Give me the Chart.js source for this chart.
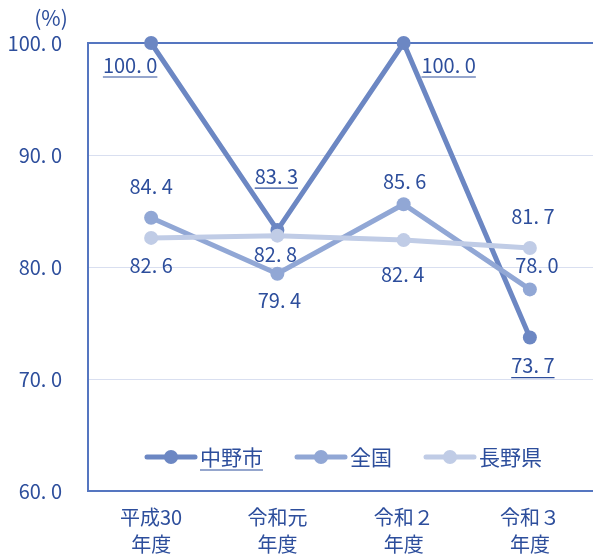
<!DOCTYPE html>
<html>
<head>
<meta charset="utf-8">
<script src="https://cdn.jsdelivr.net/npm/chart.js@4.4.1/dist/chart.umd.min.js"></script>
<style>
  html, body { margin: 0; padding: 0; background: #fff; overflow: hidden; }
  #wrap { position: relative; width: 600px; height: 560px; }
</style>
</head>
<body>
<div id="wrap"><canvas id="rateChart" width="600" height="560"></canvas></div>
<script>
// 年度ごとの率 (%)
const years = [["平成30", "年度"], ["令和元", "年度"], ["令和２", "年度"], ["令和３", "年度"]];
const nakanoCity = [100.0, 83.3, 100.0, 73.7];
const national = [84.4, 79.4, 85.6, 78.0];
const naganoPref = [82.6, 82.8, 82.4, 81.7];
const yTicks = [60, 70, 80, 90, 100];

const TEXT = "#2d4e9c";
const AXIS = "#5576c0";
const GRID = "#d9dff0";
const FONT = "'Noto Sans CJK JP', 'Noto Sans', sans-serif";

const fmt = v => v.toFixed(1).replace(".", ". ");

// 値ラベル (点からのずらし量はデータセットごと)
const valueLabels = {
  id: "valueLabels",
  afterDatasetsDraw(chart) {
    const ctx = chart.ctx;
    ctx.save();
    ctx.font = "20px " + FONT;
    ctx.fillStyle = TEXT;
    ctx.strokeStyle = TEXT;
    ctx.textAlign = "center";
    ctx.textBaseline = "middle";
    chart.data.datasets.forEach((ds, di) => {
      const meta = chart.getDatasetMeta(di);
      meta.data.forEach((pt, i) => {
        const [dx, dy] = ds.labelOffsets[i];
        const txt = fmt(ds.data[i]);
        const x = pt.x + dx, y = pt.y + dy;
        ctx.fillText(txt, x, y);
        if (ds.underline) {
          const w = ctx.measureText(txt).width;
          ctx.lineWidth = 1.2;
          ctx.beginPath();
          ctx.moveTo(x - w / 2, y + 12);
          ctx.lineTo(x + w / 2, y + 12);
          ctx.stroke();
        }
      });
    });
    ctx.restore();
  }
};

// 凡例 (グラフ内下部) と単位
const innerLegend = {
  id: "innerLegend",
  afterDatasetsDraw(chart) {
    const ctx = chart.ctx;
    const y = 457;
    const starts = [147, 297, 426];
    ctx.save();
    ctx.font = "21px " + FONT;
    ctx.textBaseline = "middle";
    chart.data.datasets.forEach((ds, i) => {
      const x0 = starts[i];
      ctx.strokeStyle = ds.borderColor;
      ctx.lineWidth = 5;
      ctx.lineCap = "round";
      ctx.beginPath();
      ctx.moveTo(x0, y);
      ctx.lineTo(x0 + 48, y);
      ctx.stroke();
      ctx.fillStyle = ds.borderColor;
      ctx.beginPath();
      ctx.arc(x0 + 24, y, 7, 0, Math.PI * 2);
      ctx.fill();
      ctx.fillStyle = TEXT;
      ctx.textAlign = "left";
      ctx.fillText(ds.label, x0 + 53, y);
      if (ds.underline) {
        const w = ctx.measureText(ds.label).width;
        ctx.strokeStyle = TEXT;
        ctx.lineWidth = 1.2;
        ctx.lineCap = "butt";
        ctx.beginPath();
        ctx.moveTo(x0 + 53, y + 13);
        ctx.lineTo(x0 + 53 + w, y + 13);
        ctx.stroke();
      }
    });
    ctx.fillStyle = TEXT;
    ctx.font = "21px " + FONT;
    ctx.textAlign = "center";
    ctx.fillText("(%)", 51, 18);
    ctx.restore();
  }
};

new Chart(document.getElementById("rateChart").getContext("2d"), {
  type: "line",
  data: {
    labels: years,
    datasets: [
      {
        label: "中野市",
        data: nakanoCity,
        borderColor: "#6c87c3",
        backgroundColor: "#6c87c3",
        underline: true,
        labelOffsets: [[-21, 22], [-1, -54], [45, 22], [3, 28]],
        order: 2
      },
      {
        label: "全国",
        data: national,
        borderColor: "#91a7d5",
        backgroundColor: "#91a7d5",
        labelOffsets: [[0, -31], [2, 27], [1, -23], [7, -24]],
        order: 1
      },
      {
        label: "長野県",
        data: naganoPref,
        borderColor: "#c0cce6",
        backgroundColor: "#c0cce6",
        labelOffsets: [[0, 28], [-2, 19], [-1, 34], [3, -32]],
        order: 0
      }
    ].map(ds => Object.assign({
      borderWidth: 5,
      pointRadius: 7,
      pointHoverRadius: 7,
      pointBorderWidth: 0,
      pointBackgroundColor: ds.borderColor,
      tension: 0,
      clip: false
    }, ds))
  },
  options: {
    responsive: false,
    devicePixelRatio: 1,
    animation: false,
    layout: { padding: { top: 43, right: 4, left: 0, bottom: 0 } },
    plugins: {
      legend: { display: false },
      tooltip: { enabled: false }
    },
    scales: {
      x: {
        offset: true,
        grid: { display: false, drawTicks: false },
        border: { display: true, color: AXIS, width: 2 },
        ticks: {
          color: TEXT,
          padding: 13,
          maxRotation: 0,
          font: { family: FONT, size: 20, lineHeight: "27px" }
        },
        afterFit: s => { s.height = 69; }
      },
      y: {
        min: 60,
        max: 100,
        afterBuildTicks: s => { s.ticks = yTicks.map(v => ({ value: v })); },
        grid: {
          drawTicks: false,
          color: c => (c.tick && c.tick.value === 100 ? AXIS : GRID),
          lineWidth: c => (c.tick && c.tick.value === 100 ? 2 : 1)
        },
        border: { display: true, color: AXIS, width: 2 },
        ticks: {
          color: TEXT,
          padding: 26,
          font: { family: FONT, size: 20 },
          callback: v => fmt(v)
        },
        afterFit: s => { s.width = 88; }
      }
    }
  },
  plugins: [valueLabels, innerLegend]
});
</script>
</body>
</html>
